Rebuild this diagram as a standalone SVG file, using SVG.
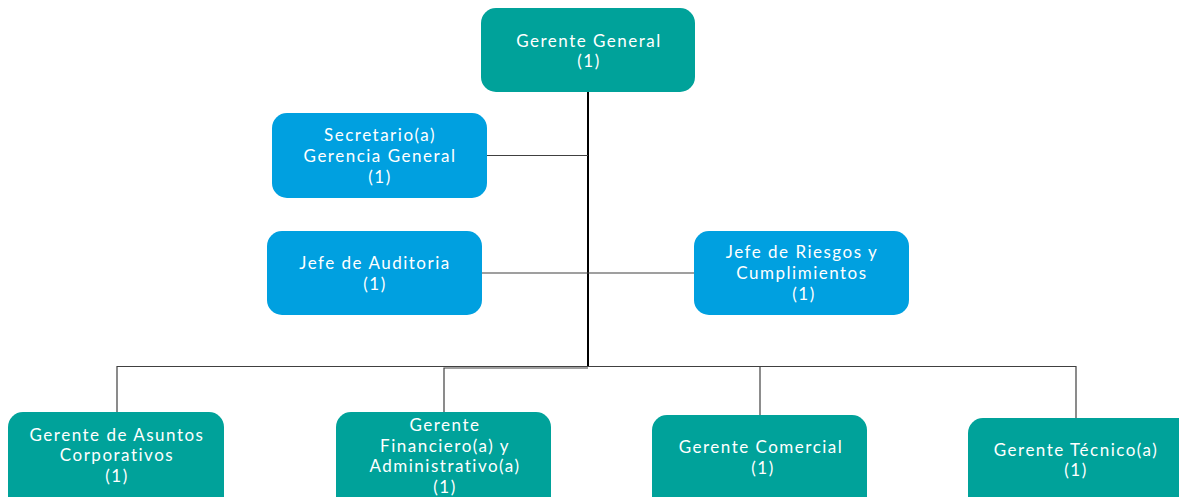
<svg xmlns="http://www.w3.org/2000/svg" width="1179" height="497" viewBox="0 0 1179 497">
<style>
.teal{fill:#00A29A}
.blue{fill:#00A0E0}
text{font-family:Lato,"Liberation Sans",sans-serif;font-size:17px;letter-spacing:1.5px;fill:#ffffff;text-anchor:middle}
.c{fill:none;stroke:#404040;stroke-width:1.2}
.m{fill:none;stroke:#000000;stroke-width:2}
</style>
<rect width="1179" height="497" fill="#ffffff"/>
<g id="connectors">
<line class="m" x1="588" y1="92" x2="588" y2="367"/>
<line class="c" x1="487" y1="155.5" x2="588" y2="155.5"/>
<line class="c" x1="482" y1="273" x2="694" y2="273"/>
<polyline class="c" points="117,412 117,366.5 588,366.5"/>
<polyline class="c" points="444,412 444,368 588,368"/>
<polyline class="c" points="588,366.5 1076,366.5 1076,418"/>
<line class="c" x1="760" y1="366.5" x2="760" y2="415"/>
</g>
<g id="gerente-general">
<rect class="teal" x="481" y="8" width="214" height="84" rx="15"/>
<text x="589" y="47">Gerente General</text>
<text x="589" y="67">(1)</text>
</g>
<g id="secretario">
<rect class="blue" x="272" y="113" width="215" height="85" rx="15"/>
<text x="380" y="141">Secretario(a)</text>
<text x="380" y="162">Gerencia General</text>
<text x="380" y="183">(1)</text>
</g>
<g id="auditoria">
<rect class="blue" x="267" y="231" width="215" height="84" rx="15"/>
<text x="375" y="269">Jefe de Auditoria</text>
<text x="375" y="290">(1)</text>
</g>
<g id="riesgos">
<rect class="blue" x="694" y="231" width="215" height="84" rx="15"/>
<text x="802" y="258">Jefe de Riesgos y</text>
<text x="802" y="279">Cumplimientos</text>
<text x="804" y="300">(1)</text>
</g>
<g id="asuntos">
<rect class="teal" x="8" y="412" width="216" height="100" rx="15"/>
<text x="117" y="441">Gerente de Asuntos</text>
<text x="117" y="461">Corporativos</text>
<text x="117" y="482">(1)</text>
</g>
<g id="financiero">
<rect class="teal" x="336" y="412" width="215" height="100" rx="15"/>
<text x="445" y="431">Gerente</text>
<text x="445" y="452">Financiero(a) y</text>
<text x="445" y="472">Administrativo(a)</text>
<text x="445" y="493">(1)</text>
</g>
<g id="comercial">
<rect class="teal" x="652" y="415" width="215" height="100" rx="15"/>
<text x="761" y="453">Gerente Comercial</text>
<text x="763" y="474">(1)</text>
</g>
<g id="tecnico">
<rect class="teal" x="968" y="418" width="225" height="100" rx="15"/>
<text x="1076" y="456">Gerente Técnico(a)</text>
<text x="1076" y="476">(1)</text>
</g>
</svg>
